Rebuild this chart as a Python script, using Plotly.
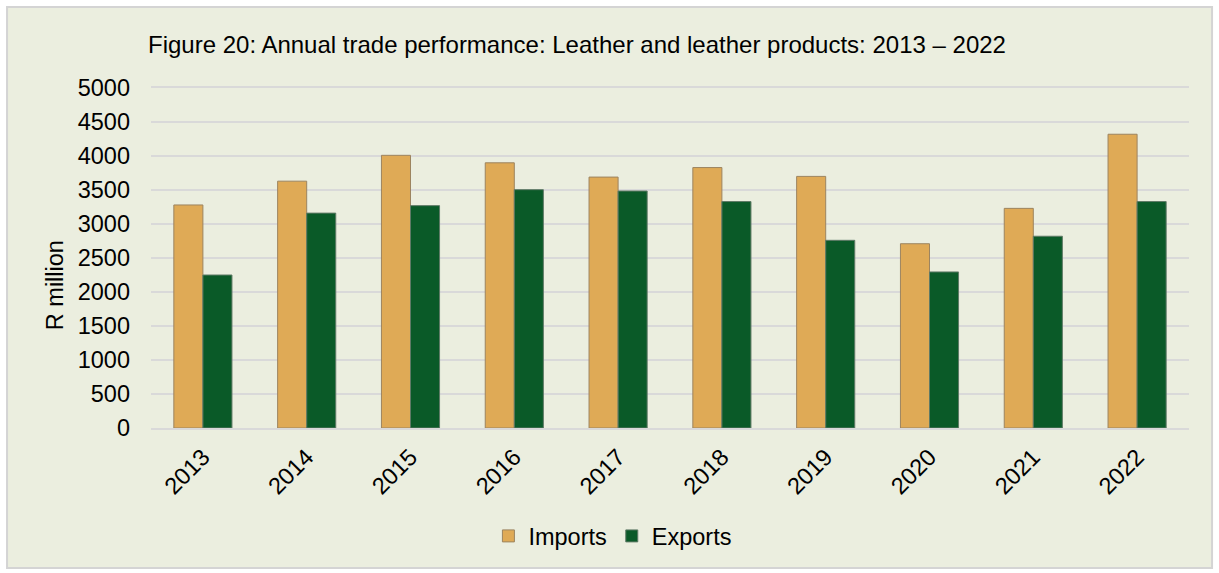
import plotly.graph_objects as go

years = ["2013", "2014", "2015", "2016", "2017", "2018", "2019", "2020", "2021", "2022"]
imports = [3280, 3630, 4010, 3900, 3690, 3830, 3700, 2710, 3230, 4320]
exports = [2250, 3160, 3270, 3505, 3485, 3330, 2760, 2295, 2820, 3330]
y_ticks = [0, 500, 1000, 1500, 2000, 2500, 3000, 3500, 4000, 4500, 5000]

FONT = "Liberation Sans, Arial, sans-serif"
BG = "#EBEEDF"
TXT = 23.5

fig = go.Figure()
fig.add_trace(go.Bar(
    x=years, y=imports, name="Imports",
    marker=dict(color="#DFAA56", line=dict(color="#9C8460", width=1)),
))
fig.add_trace(go.Bar(
    x=years, y=exports, name="Exports",
    marker=dict(color="#0A5A28", line=dict(color="#5F7A66", width=1)),
))

# outer framed panel behind the chart
fig.add_shape(
    type="rect", xref="paper", yref="paper",
    x0=-0.1387, x1=1.0222, y0=-0.4118, y1=1.238,
    fillcolor=BG, line=dict(color="#D4D4D4", width=2), layer="below",
)

# vertical axis title
fig.add_annotation(
    text="R million", textangle=-90, showarrow=False,
    xref="paper", yref="paper", x=-0.0925, y=0.42,
    xanchor="center", yanchor="middle",
    font=dict(family=FONT, size=TXT, color="black"),
)

fig.update_layout(
    width=1219, height=573,
    margin=dict(l=151, r=30, t=88, b=145),
    paper_bgcolor="white",
    plot_bgcolor="white",
    barmode="group",
    bargap=0.44,
    bargroupgap=0,
    font=dict(family=FONT, size=TXT, color="black"),
    title=dict(
        text="Figure 20: Annual trade performance: Leather and leather products: 2013 \u2013 2022",
        x=148 / 1219, xanchor="left", xref="container",
        y=1 - 45 / 573, yanchor="middle", yref="container",
        font=dict(family=FONT, size=24, color="black"),
    ),
    legend=dict(
        orientation="h", x=0.445, xanchor="center", y=-0.318, yanchor="middle",
        bgcolor="rgba(0,0,0,0)", font=dict(size=TXT),
        itemwidth=30, traceorder="normal",
    ),
    xaxis=dict(
        tickangle=-45, showline=True, linecolor="#D9D9D9", linewidth=2,
        mirror=True, showgrid=False, tickfont=dict(size=TXT),
        ticklabelstandoff=4,
    ),
    yaxis=dict(
        range=[0, 5000], tickvals=y_ticks, showgrid=True,
        gridcolor="#D9D9D9", gridwidth=2, zeroline=False,
        showline=False, ticks="", ticklabelstandoff=20,
        tickfont=dict(size=TXT),
    ),
)

fig.write_html("out.html")
